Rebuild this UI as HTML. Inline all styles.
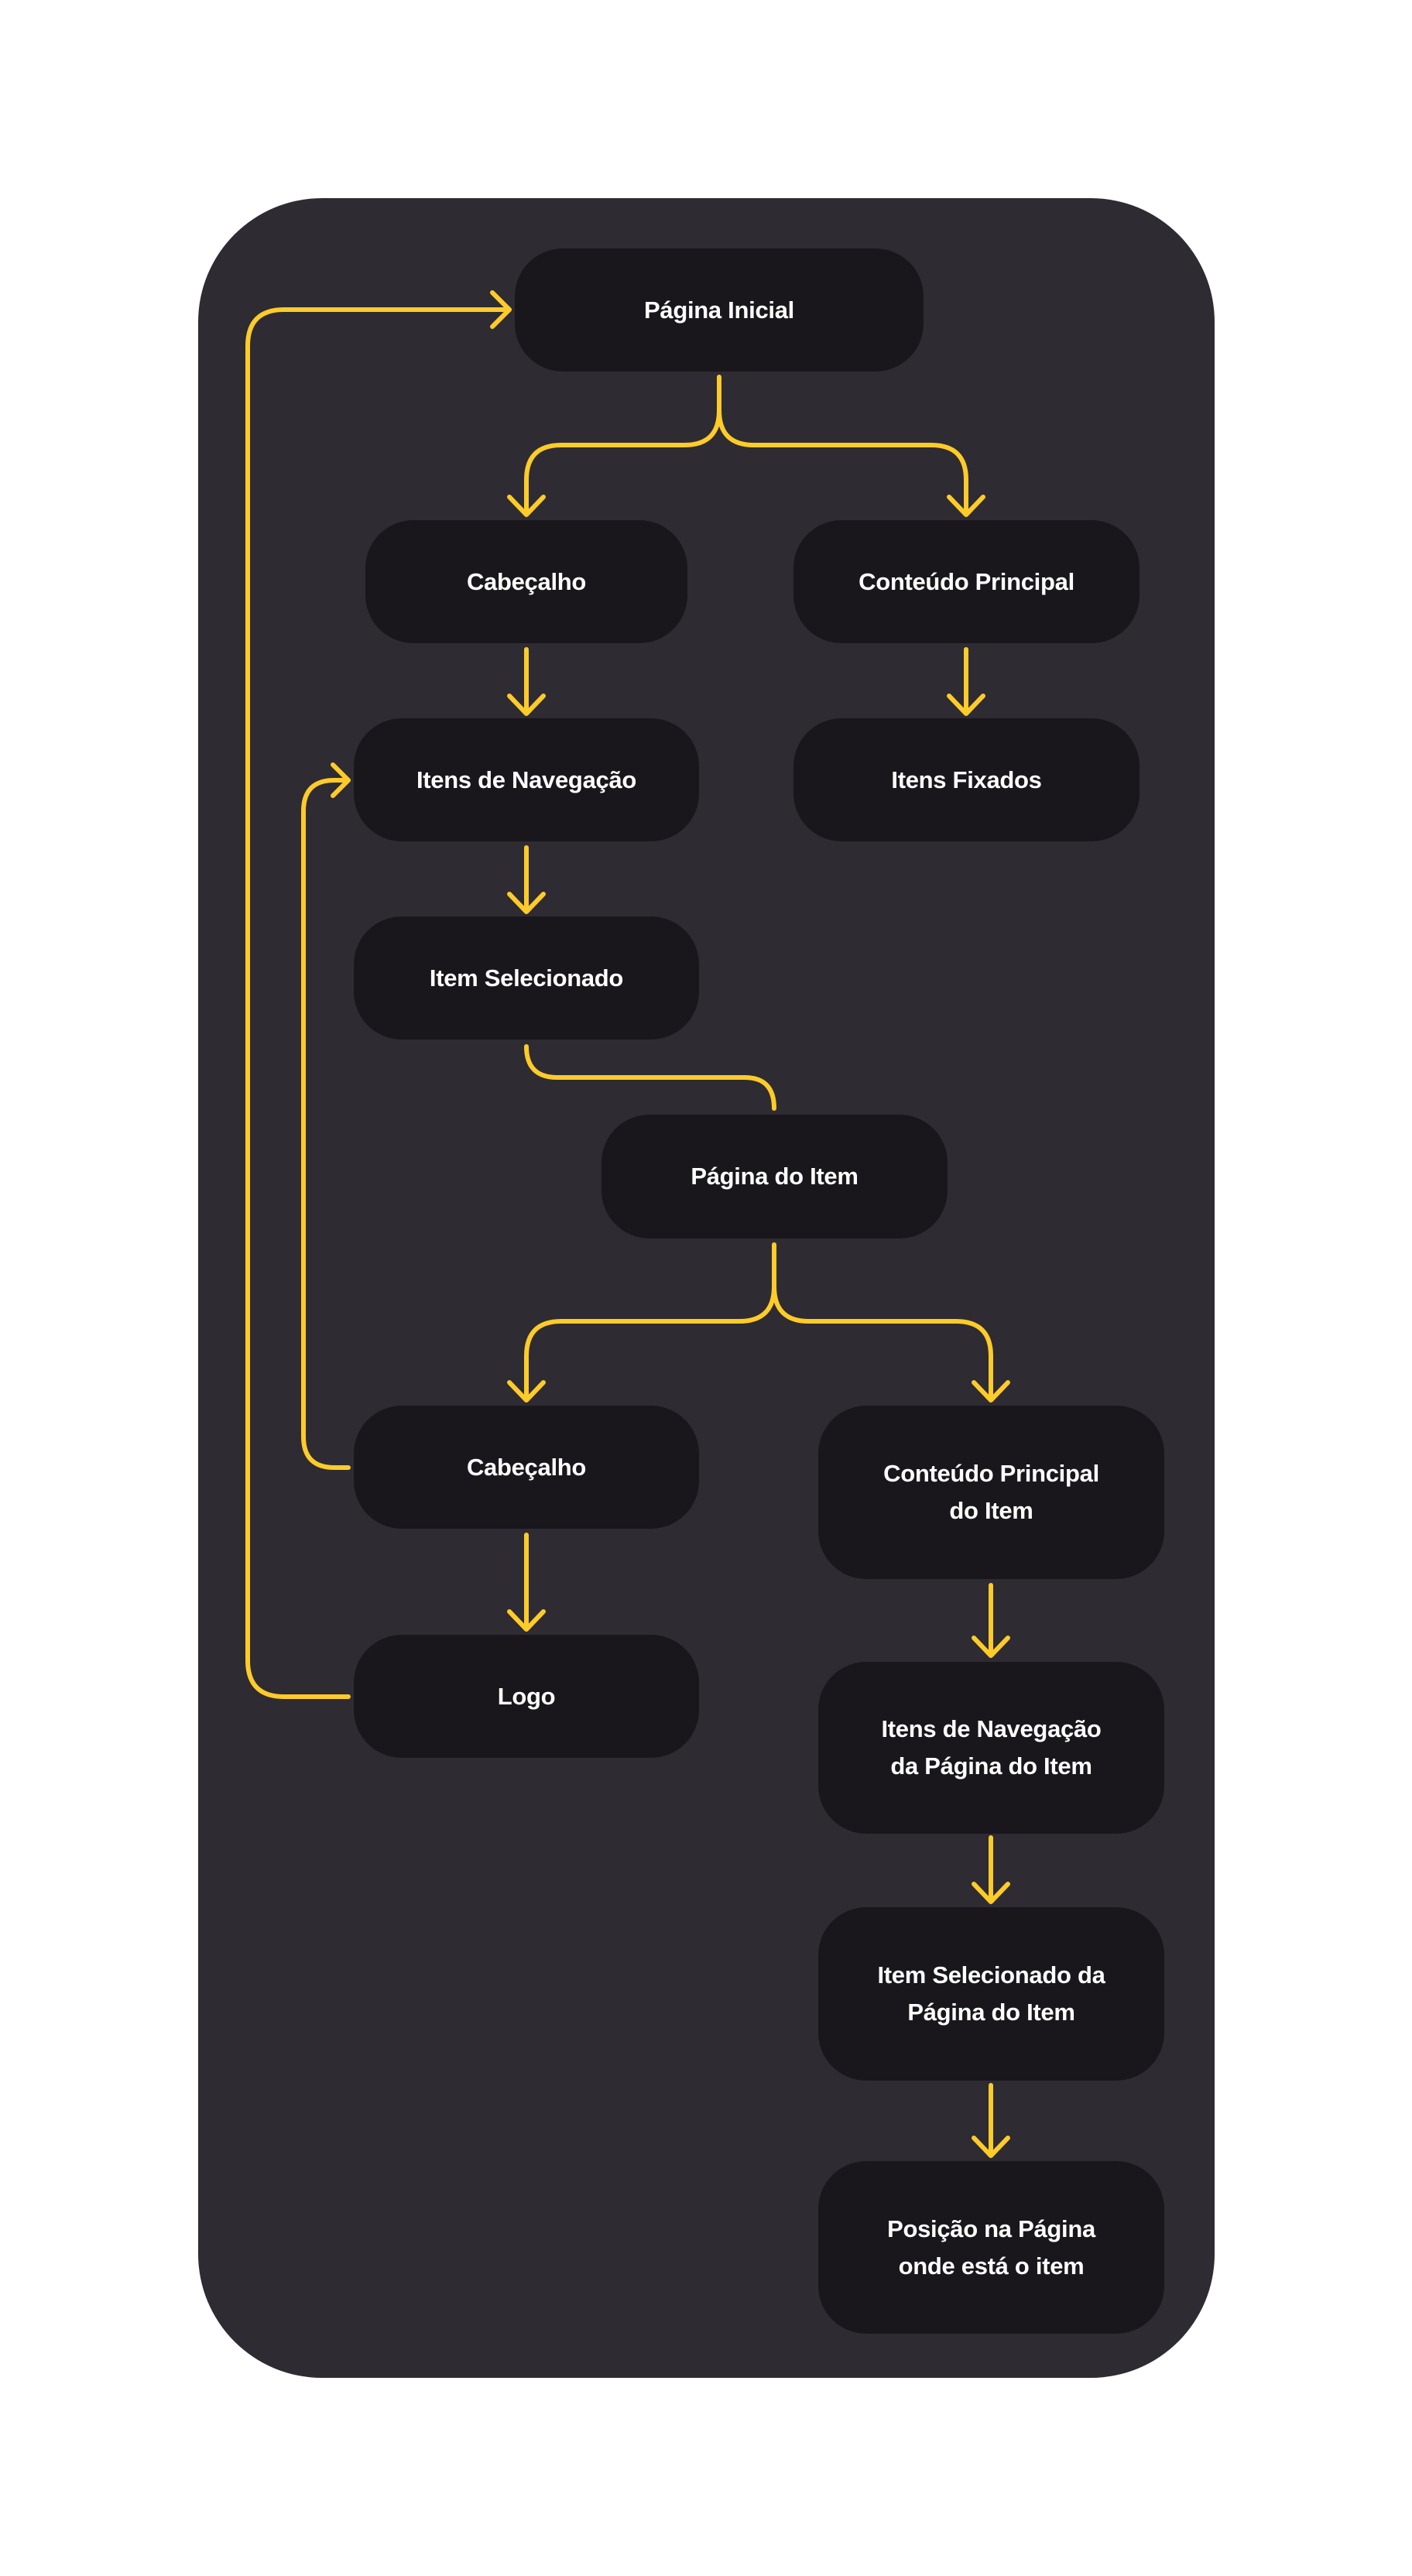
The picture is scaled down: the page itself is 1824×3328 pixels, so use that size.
<!DOCTYPE html>
<html><head><meta charset="utf-8"><style>
html,body{margin:0;padding:0;background:#fff;}
body{width:1824px;height:3328px;position:relative;overflow:hidden;font-family:"Liberation Sans",sans-serif;}
.c{position:absolute;left:256px;top:256px;width:1313px;height:2816px;background:#2E2B32;border-radius:160px;}
.n{position:absolute;background:#19171C;border-radius:62px;color:#fff;font-weight:bold;font-size:31px;line-height:48px;display:flex;align-items:center;justify-content:center;text-align:center;letter-spacing:-0.3px;}
svg{position:absolute;left:0;top:0;}
</style></head><body>
<div class="c"></div>
<div class="n" style="left:665px;top:321px;width:528px;height:159px;">Página Inicial</div>
<div class="n" style="left:472px;top:672px;width:416px;height:159px;">Cabeçalho</div>
<div class="n" style="left:1025px;top:672px;width:447px;height:159px;">Conteúdo Principal</div>
<div class="n" style="left:457px;top:928px;width:446px;height:159px;">Itens de Navegação</div>
<div class="n" style="left:1025px;top:928px;width:447px;height:159px;">Itens Fixados</div>
<div class="n" style="left:457px;top:1184px;width:446px;height:159px;">Item Selecionado</div>
<div class="n" style="left:777px;top:1440px;width:447px;height:160px;">Página do Item</div>
<div class="n" style="left:457px;top:1816px;width:446px;height:159px;">Cabeçalho</div>
<div class="n" style="left:1057px;top:1816px;width:447px;height:224px;">Conteúdo Principal<br>do Item</div>
<div class="n" style="left:457px;top:2112px;width:446px;height:159px;">Logo</div>
<div class="n" style="left:1057px;top:2147px;width:447px;height:222px;">Itens de Navegação<br>da Página do Item</div>
<div class="n" style="left:1057px;top:2464px;width:447px;height:224px;">Item Selecionado da<br>Página do Item</div>
<div class="n" style="left:1057px;top:2792px;width:447px;height:223px;">Posição na Página<br>onde está o item</div>
<svg width="1824" height="3328" viewBox="0 0 1824 3328" fill="none" stroke="#FDCB2A" stroke-width="6" stroke-linecap="round" stroke-linejoin="round">
<!-- top branch -->
<path d="M929 487 L929 530 Q929 575 884 575 L725 575 Q680 575 680 620 L680 664"/>
<path d="M929 530 Q929 575 974 575 L1203 575 Q1248 575 1248 620 L1248 664"/>
<path d="M658 642 L680 665 L702 642"/><path d="M1226 642 L1248 665 L1270 642"/>
<!-- verticals -->
<path d="M680 839 L680 921 M658 899 L680 922 L702 899"/>
<path d="M1248 839 L1248 921 M1226 899 L1248 922 L1270 899"/>
<path d="M680 1095 L680 1177 M658 1155 L680 1178 L702 1155"/>
<!-- item sel to pagina item -->
<path d="M680 1352 Q680 1392 720 1392 L962 1392 Q1000 1392 1000 1432"/>
<!-- second branch -->
<path d="M1000 1608 L1000 1662 Q1000 1707 955 1707 L725 1707 Q680 1707 680 1752 L680 1808"/>
<path d="M1000 1662 Q1000 1707 1045 1707 L1235 1707 Q1280 1707 1280 1752 L1280 1808"/>
<path d="M658 1786 L680 1809 L702 1786"/><path d="M1258 1786 L1280 1809 L1302 1786"/>
<path d="M680 1983 L680 2104 M658 2082 L680 2105 L702 2082"/>
<path d="M1280 2048 L1280 2138 M1258 2116 L1280 2139 L1302 2116"/>
<path d="M1280 2374 L1280 2456 M1258 2434 L1280 2457 L1302 2434"/>
<path d="M1280 2694 L1280 2784 M1258 2762 L1280 2785 L1302 2762"/>
<!-- loops -->
<path d="M450 2192 L367 2192 Q320 2192 320 2145 L320 447 Q320 400 367 400 L658 400"/>
<path d="M636 378 L658 400 L636 422"/>
<path d="M450 1896 L432 1896 Q392 1896 392 1856 L392 1048 Q392 1008 432 1008 L450 1008"/>
<path d="M430 988 L450 1008 L430 1028"/>
</svg>
</body></html>
